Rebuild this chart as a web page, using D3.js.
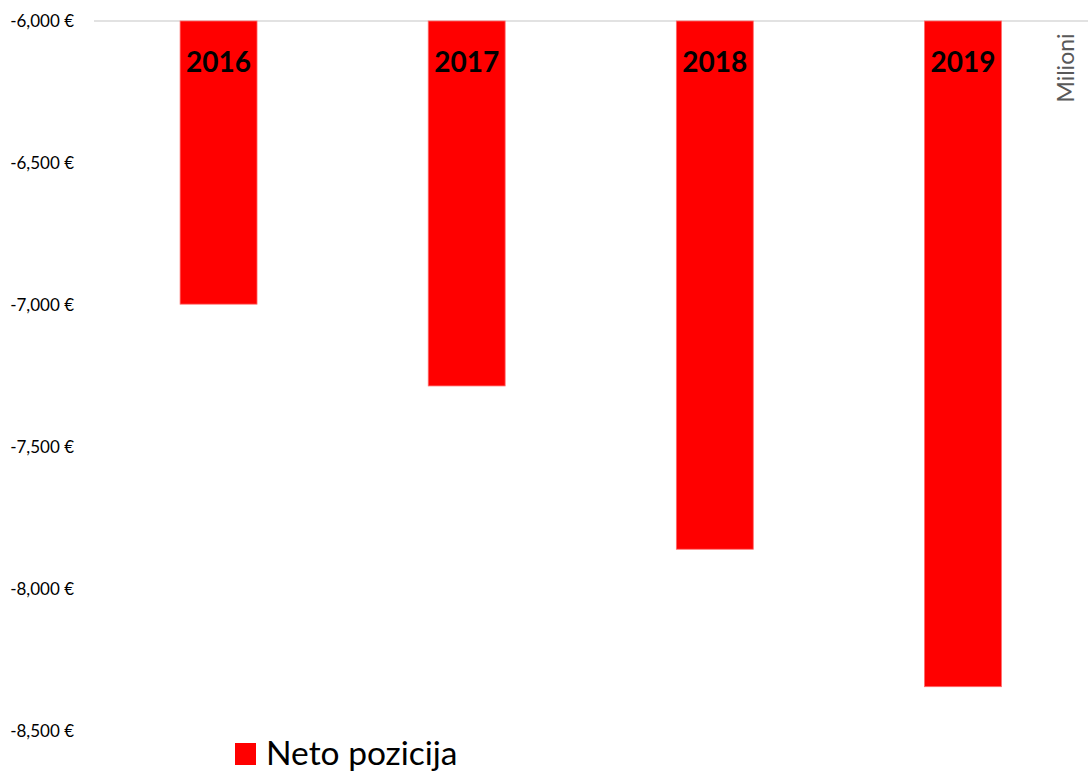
<!DOCTYPE html>
<html><head><meta charset="utf-8">
<script src="https://cdn.jsdelivr.net/npm/d3@7"></script>
<style>body{margin:0;background:#fff;} svg{display:block;}</style>
</head><body>
<svg id="c" width="1088" height="771"></svg>
<script>
const categories = ["2016","2017","2018","2019"];
const values = [-6997, -7285, -7860, -8344];
const yTicks = [-6000, -6500, -7000, -7500, -8000, -8500];
const seriesName = "Neto pozicija";
const unitLabel = "Milioni";

const svg = d3.select("#c");
const font = "Lato, 'Noto Sans', sans-serif";
const x = d3.scaleBand().domain(categories).range([94.5, 1087]).paddingInner(0.69).paddingOuter(0.345);
const y = d3.scaleLinear().domain([-6000, -8500]).range([21, 731]);

svg.append("line").attr("x1", 94).attr("x2", 1088).attr("y1", y(-6000)).attr("y2", y(-6000))
  .attr("stroke", "#d9d9d9").attr("stroke-width", 1.5);

const yAxis = d3.axisLeft(y).tickValues(yTicks).tickSize(0).tickPadding(0)
  .tickFormat(d => d3.format(",")(d).replace("\u2212", "-") + " €");
const ga = svg.append("g").attr("transform", "translate(74,0)").call(yAxis);
ga.select(".domain").remove();
ga.selectAll("text").attr("font-family", font).attr("font-size", 17).attr("fill", "#000");

svg.selectAll("rect.bar").data(values).join("rect").attr("class","bar")
  .attr("x", (d,i) => x(categories[i])).attr("width", x.bandwidth())
  .attr("y", y(-6000)).attr("height", d => y(d) - y(-6000))
  .attr("fill", "#ff0000").attr("stroke", "#ff6b6b").attr("stroke-width", 0.8);

svg.selectAll("text.lbl").data(categories).join("text").attr("class","lbl")
  .attr("x", d => x(d) + x.bandwidth()/2).attr("y", 72)
  .attr("text-anchor", "middle").attr("font-family", font).attr("font-weight", "bold")
  .attr("font-size", 28).attr("fill", "#000").text(d => d);

svg.append("text").attr("transform", "translate(1074,68) rotate(-90)")
  .attr("text-anchor", "middle").attr("font-family", font).attr("font-size", 23)
  .attr("fill", "#595959").text(unitLabel);

svg.append("rect").attr("x", 235).attr("y", 743).attr("width", 21).attr("height", 22).attr("fill", "#ff0000");
svg.append("text").attr("x", 266).attr("y", 765).attr("font-family", font).attr("font-size", 33.5)
  .attr("fill", "#000").text(seriesName);
</script>
</body></html>
